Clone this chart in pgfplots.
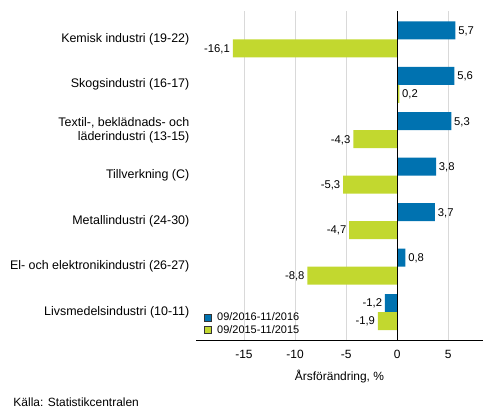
\documentclass[border=0pt]{standalone}
\usepackage{fontspec}
\setmainfont{Liberation Sans}
\usepackage{pgfplots}
\pgfplotsset{compat=1.18}
\definecolor{sfblue}{HTML}{0072B0}
\definecolor{sfgreen}{HTML}{C2D82F}
\definecolor{gridgray}{HTML}{D9D9D9}
\begin{document}
\begin{tikzpicture}
\path[use as bounding box] (0bp,0bp) rectangle (493bp,-416bp);
\begin{axis}[
  at={(196bp,-10.7bp)}, anchor=north west,
  scale only axis, width=287bp, height=329.3bp,
  xbar, bar width=18bp,
  xmin=-19.7, xmax=8.4,
  ymin=-0.616, ymax=6.63,
  axis x line*=bottom,
  axis y line*=left,
  y axis line style={draw=none},
  x axis line style={line width=1bp, -},
  major tick length=0pt,
  xtick={-15,-10,-5,0,5},
  xticklabels={-15,-10,-5,0,5},
  xmajorgrids,
  grid style={gridgray, line width=1bp},
  ytick={0,1,2,3,4,5,6},
  yticklabels={Livsmedelsindustri (10-11),El- och elektronikindustri (26-27),Metallindustri (24-30),Tillverkning (C),{Textil-, beklädnads- och\\läderindustri (13-15)},Skogsindustri (16-17),Kemisk industri (19-22)},
  yticklabel style={anchor=east, inner sep=0pt, xshift=-6.5bp, align=right, font=\fontsize{12.5}{14.5}\selectfont},
  xticklabel style={anchor=base, inner sep=0pt, yshift=-18.3bp, font=\fontsize{12}{14}\selectfont},
  xlabel={Årsförändring, \%},
  xlabel style={at={(axis description cs:0.5,0)}, anchor=base, yshift=-40.7bp, inner sep=0pt, font=\fontsize{12}{14}\selectfont},
  nodes near coords={\pgfmathprintnumber[assume math mode=true, use comma, fixed, fixed zerofill, precision=1]{\pgfplotspointmeta}},
  nodes near coords align={horizontal},
  every node near coord/.append style={font=\fontsize{11.3}{13}\selectfont, text=black, inner sep=2.7bp, text depth=0pt},
  legend style={at={(axis description cs:0,0)}, anchor=south west, xshift=8bp, yshift=4bp, draw=none, fill=none, inner sep=0pt,
    nodes={inner sep=1.3bp, font=\fontsize{11}{12}\selectfont}, row sep=0pt,
    /tikz/every odd column/.append style={column sep=4.5bp}},
  legend cell align=left,
  legend image code/.code={\draw[#1, draw=black!80, line width=0.6bp] (0bp,-3.3bp) rectangle (6.6bp,3.3bp);},
]
\addplot+[draw=none, fill=sfblue, bar shift=9bp] coordinates {
  (5.7,6) (5.6,5) (5.3,4) (3.8,3) (3.7,2) (0.8,1) (-1.2,0)
};
\addplot+[draw=none, fill=sfgreen, bar shift=-9bp] coordinates {
  (-16.1,6) (0.2,5) (-4.3,4) (-5.3,3) (-4.7,2) (-8.8,1) (-1.9,0)
};
\legend{09/2016-11/2016, 09/2015-11/2015}
\draw[black, line width=1bp] (axis cs:0,-0.616) -- (axis cs:0,6.63);
\end{axis}
\node[anchor=west, inner sep=0pt, font=\fontsize{12}{14}\selectfont] at (13.3bp,-402bp) {Källa: Statistikcentralen};
\end{tikzpicture}
\end{document}
